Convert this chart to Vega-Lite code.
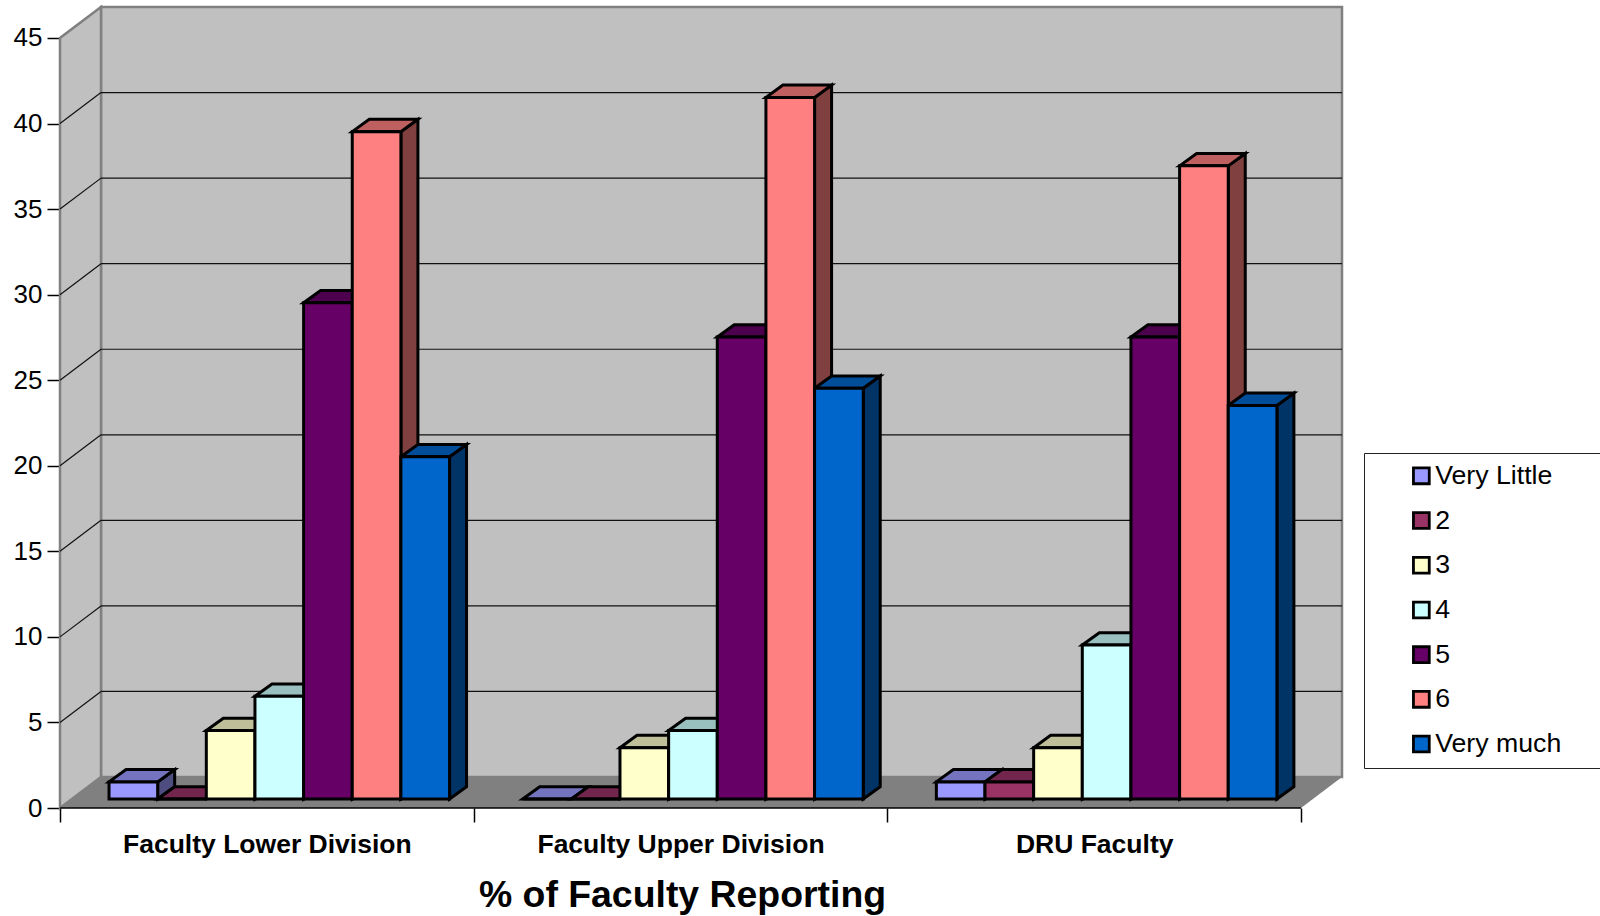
{
"$schema":"https://vega.github.io/schema/vega-lite/v6.json",
"width":1283,"height":801,"autosize":"none",
"padding":{"left":60,"top":7,"right":257,"bottom":108},
"background":"white",
"config":{"view":{"stroke":null},"font":"Liberation Sans"},
"datasets":{"bars":[
{"category":"Faculty Lower Division","series":"Very Little","value":1},
{"category":"Faculty Lower Division","series":"2","value":0},
{"category":"Faculty Lower Division","series":"3","value":4},
{"category":"Faculty Lower Division","series":"4","value":6},
{"category":"Faculty Lower Division","series":"5","value":29},
{"category":"Faculty Lower Division","series":"6","value":39},
{"category":"Faculty Lower Division","series":"Very much","value":20},
{"category":"Faculty Upper Division","series":"Very Little","value":0},
{"category":"Faculty Upper Division","series":"2","value":0},
{"category":"Faculty Upper Division","series":"3","value":3},
{"category":"Faculty Upper Division","series":"4","value":4},
{"category":"Faculty Upper Division","series":"5","value":27},
{"category":"Faculty Upper Division","series":"6","value":41},
{"category":"Faculty Upper Division","series":"Very much","value":24},
{"category":"DRU Faculty","series":"Very Little","value":1},
{"category":"DRU Faculty","series":"2","value":1},
{"category":"DRU Faculty","series":"3","value":3},
{"category":"DRU Faculty","series":"4","value":9},
{"category":"DRU Faculty","series":"5","value":27},
{"category":"DRU Faculty","series":"6","value":37},
{"category":"DRU Faculty","series":"Very much","value":23}
],
"ticks":[{"level":5},{"level":10},{"level":15},{"level":20},{"level":25},{"level":30},{"level":35},{"level":40}]
},
"resolve":{"scale":{"color":"independent"}},
"layer":[
{"data":{"values":[{"wall":"back"}]},
"mark":{"type":"rect","fill":"#c0c0c0","stroke":"#808080","strokeWidth":2.5},
"encoding":{
"x":{"datum":0.0991,"type":"quantitative","scale":{"domain":[0,3.1015]},
"axis":{"values":[0,0.5,1,1.5,2,2.5,3],"grid":false,"domain":false,"tickSize":14,"tickColor":"black","tickWidth":1.5,
"tickOpacity":{"condition":{"test":"datum.value % 1 !== 0","value":0},"value":1},
"labelExpr":"datum.value==0.5?'Faculty Lower Division':datum.value==1.5?'Faculty Upper Division':datum.value==2.5?'DRU Faculty':''",
"labelFont":"Liberation Sans","labelFontWeight":"bold","labelFontSize":26.5,"labelColor":"black","labelPadding":9,"labelLimit":500,"labelOverlap":false,"labelFlush":false,"labelBound":false,
"title":"% of Faculty Reporting","titleFont":"Liberation Sans","titleFontWeight":"bold","titleFontSize":37.4,"titleColor":"black","titleX":622,"titleY":98,"titleBaseline":"alphabetic","titleAnchor":"middle"}},
"x2":{"datum":3.0991},
"y":{"datum":1.81,"type":"quantitative","scale":{"domain":[0,46.81]},
"axis":{"values":[0,5,10,15,20,25,30,35,40,45],"grid":false,"domain":false,"tickSize":13,"tickColor":"black","tickWidth":1.5,"labelFont":"Liberation Sans","labelFontSize":26,"labelColor":"black","labelPadding":5,"labelOverlap":false,"labelBound":false,"title":null}},
"y2":{"datum":46.81}}},
{"data":{"values":[{"corner":0},{"corner":1}]},
"transform":[{"calculate":"datum.corner*0.0991","as":"px"},{"calculate":"datum.corner*1.81","as":"py"},{"calculate":"45+datum.corner*1.81","as":"py2"}],
"mark":{"type":"area","fill":"#c0c0c0","stroke":"#808080","strokeWidth":2.5},
"encoding":{"x":{"field":"px","type":"quantitative","scale":{"domain":[0,3.1015]}},"y":{"field":"py","type":"quantitative","scale":{"domain":[0,46.81]}},"y2":{"field":"py2"}}},
{"data":{"values":[{"corner":0},{"corner":1},{"corner":2},{"corner":3}]},
"transform":[{"calculate":"[0,0.0991,3,3.0991][datum.corner]","as":"px"},{"calculate":"[0,1.81,1.81,1.81][datum.corner]","as":"py"},{"calculate":"[0,0,0,1.81][datum.corner]","as":"py2"}],
"mark":{"type":"area","fill":"#808080"},
"encoding":{"x":{"field":"px","type":"quantitative","scale":{"domain":[0,3.1015]}},"y":{"field":"py","type":"quantitative","scale":{"domain":[0,46.81]}},"y2":{"field":"py2"}}},
{"data":{"name":"ticks"},
"transform":[{"calculate":"datum.level+1.81","as":"back"}],
"mark":{"type":"rule","color":"#111111","strokeWidth":1.2},
"encoding":{"x":{"datum":0.0991,"type":"quantitative","scale":{"domain":[0,3.1015]}},"x2":{"datum":3.0991},"y":{"field":"back","type":"quantitative","scale":{"domain":[0,46.81]}}}},
{"data":{"name":"ticks"},
"transform":[{"calculate":"datum.level+1.81","as":"back"}],
"mark":{"type":"rule","color":"#111111","strokeWidth":1.2},
"encoding":{"x":{"datum":0,"type":"quantitative","scale":{"domain":[0,3.1015]}},"x2":{"datum":0.0991},"y":{"field":"level","type":"quantitative","scale":{"domain":[0,46.81]}},"y2":{"field":"back"}}},
{"data":{"values":[{"level":0}]},
"mark":{"type":"rule","color":"black","strokeWidth":1.5},
"encoding":{"x":{"datum":0,"type":"quantitative","scale":{"domain":[0,3.1015]}},"x2":{"datum":3},"y":{"field":"level","type":"quantitative","scale":{"domain":[0,46.81]}}}},
{"data":{"name":"bars"},
"transform":[
{"calculate":"indexof(['Faculty Lower Division','Faculty Upper Division','DRU Faculty'],datum.category)+0.1185+0.1176*indexof(['Very Little','2','3','4','5','6','Very much'],datum.series)","as":"xl"},
{"calculate":"datum.xl+0.1176","as":"xr"},
{"calculate":"datum.value+0.526","as":"top"},
{"calculate":"[0,1]","as":"t"},{"flatten":["t"]},
{"calculate":"datum.xr+datum.t*0.0411","as":"px"},
{"calculate":"datum.top+datum.t*0.72","as":"py"},
{"calculate":"0.526+datum.t*0.72","as":"py2"},
{"calculate":"datum.category+'|'+datum.series","as":"key"}],
"mark":{"type":"area","stroke":"black","strokeWidth":3,"strokeJoin":"miter"},
"encoding":{
"x":{"field":"px","type":"quantitative","scale":{"domain":[0,3.1015]}},
"y":{"field":"py","type":"quantitative","scale":{"domain":[0,46.81]}},
"y2":{"field":"py2"},
"detail":{"field":"key"},
"color":{"field":"series","type":"nominal","legend":null,"scale":{"domain":["Very Little","2","3","4","5","6","Very much"],"range":["#4D4D80","#4D1A33","#808066","#668080","#330033","#804040","#003366"]}}}},
{"data":{"name":"bars"},
"transform":[
{"calculate":"indexof(['Faculty Lower Division','Faculty Upper Division','DRU Faculty'],datum.category)+0.1185+0.1176*indexof(['Very Little','2','3','4','5','6','Very much'],datum.series)","as":"xl"},
{"calculate":"datum.xl+0.1176","as":"xr"},
{"calculate":"datum.value+0.526","as":"top"},
{"calculate":"[0,1,2,3]","as":"t"},{"flatten":["t"]},
{"calculate":"[datum.xl,datum.xl+0.0411,datum.xr,datum.xr+0.0411][datum.t]","as":"px"},
{"calculate":"datum.t==0?datum.top:datum.top+0.72","as":"py"},
{"calculate":"datum.t==3?datum.top+0.72:datum.top","as":"py2"},
{"calculate":"datum.category+'|'+datum.series","as":"key"}],
"mark":{"type":"area","stroke":"black","strokeWidth":3,"strokeJoin":"miter"},
"encoding":{
"x":{"field":"px","type":"quantitative","scale":{"domain":[0,3.1015]}},
"y":{"field":"py","type":"quantitative","scale":{"domain":[0,46.81]}},
"y2":{"field":"py2"},
"detail":{"field":"key"},
"color":{"field":"series","type":"nominal","legend":null,"scale":{"domain":["Very Little","2","3","4","5","6","Very much"],"range":["#7373BF","#73264D","#BFBF99","#99BFBF","#4D004D","#BF6060","#004D99"]}}}},
{"data":{"name":"bars"},
"transform":[
{"calculate":"indexof(['Faculty Lower Division','Faculty Upper Division','DRU Faculty'],datum.category)+0.1185+0.1176*indexof(['Very Little','2','3','4','5','6','Very much'],datum.series)","as":"xl"},
{"calculate":"datum.xl+0.1176","as":"xr"},
{"calculate":"datum.value+0.526","as":"top"},
{"calculate":"0.526","as":"base"}],
"mark":{"type":"rect","stroke":"black","strokeWidth":3},
"encoding":{
"x":{"field":"xl","type":"quantitative","scale":{"domain":[0,3.1015]}},
"x2":{"field":"xr"},
"y":{"field":"top","type":"quantitative","scale":{"domain":[0,46.81]}},
"y2":{"field":"base"},
"color":{"field":"series","type":"nominal","scale":{"domain":["Very Little","2","3","4","5","6","Very much"],"range":["#9999FF","#993366","#FFFFCC","#CCFFFF","#660066","#FF8080","#0066CC"]},
"legend":{"orient":"none","legendX":1304,"legendY":446,"title":" ","titleOrient":"right","titlePadding":40,"titleFontSize":1,"fillColor":"white","strokeColor":"#222222","padding":9.5,"symbolType":"square","symbolSize":250,"symbolStrokeColor":"black","symbolStrokeWidth":2.8,"symbolOffset":34.5,"labelFont":"Liberation Sans","labelFontSize":26.7,"labelColor":"black","labelOffset":0.5,"rowPadding":15.7,"labelLimit":300}}}}
]
}
